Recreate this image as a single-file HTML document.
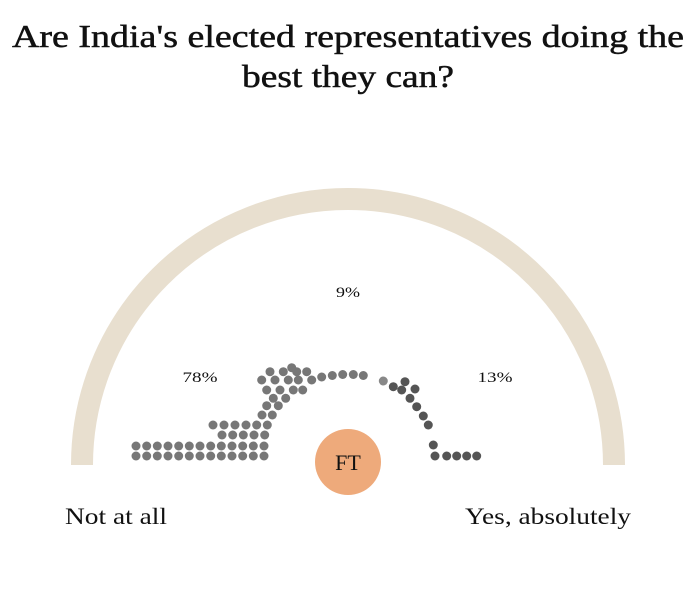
<!DOCTYPE html>
<html><head><meta charset="utf-8"><style>
html,body{margin:0;padding:0;background:#fff;}
svg{display:block}
text{font-family:"Liberation Serif","DejaVu Serif",serif;fill:#111}
</style></head><body>
<svg width="700" height="610" viewBox="0 0 700 610" xmlns="http://www.w3.org/2000/svg">
<text x="348" y="47" text-anchor="middle" font-size="32" stroke="#111" stroke-width="0.5" textLength="672" lengthAdjust="spacingAndGlyphs">Are India's elected representatives doing the</text>
<text x="348" y="87" text-anchor="middle" font-size="32" stroke="#111" stroke-width="0.5" textLength="212" lengthAdjust="spacingAndGlyphs">best they can?</text>
<path d="M82 465 A266 266 0 0 1 614 465" fill="none" stroke="#e8dfcf" stroke-width="22"/>
<circle cx="348" cy="462" r="33" fill="#eeaa7b"/>
<text x="348" y="470" text-anchor="middle" font-size="22" fill="#333">FT</text>
<text x="348" y="297" text-anchor="middle" font-size="15" textLength="24" lengthAdjust="spacingAndGlyphs">9%</text>
<text x="200" y="382" text-anchor="middle" font-size="15" textLength="35" lengthAdjust="spacingAndGlyphs">78%</text>
<text x="495" y="382" text-anchor="middle" font-size="15" textLength="35" lengthAdjust="spacingAndGlyphs">13%</text>
<text x="65" y="524" font-size="23" fill="#333" textLength="102" lengthAdjust="spacingAndGlyphs">Not at all</text>
<text x="465" y="524" font-size="23" fill="#333" textLength="166" lengthAdjust="spacingAndGlyphs">Yes, absolutely</text>
<g fill="#777">
<circle cx="136" cy="456" r="4.5"/><circle cx="146.7" cy="456" r="4.5"/><circle cx="157.3" cy="456" r="4.5"/><circle cx="168" cy="456" r="4.5"/><circle cx="178.7" cy="456" r="4.5"/><circle cx="189.3" cy="456" r="4.5"/><circle cx="200" cy="456" r="4.5"/><circle cx="210.7" cy="456" r="4.5"/><circle cx="221.3" cy="456" r="4.5"/><circle cx="232" cy="456" r="4.5"/><circle cx="242.7" cy="456" r="4.5"/><circle cx="253.3" cy="456" r="4.5"/><circle cx="264" cy="456" r="4.5"/>
<circle cx="136" cy="446" r="4.5"/><circle cx="146.7" cy="446" r="4.5"/><circle cx="157.3" cy="446" r="4.5"/><circle cx="168" cy="446" r="4.5"/><circle cx="178.7" cy="446" r="4.5"/><circle cx="189.3" cy="446" r="4.5"/><circle cx="200" cy="446" r="4.5"/><circle cx="210.7" cy="446" r="4.5"/><circle cx="221.3" cy="446" r="4.5"/><circle cx="232" cy="446" r="4.5"/><circle cx="242.7" cy="446" r="4.5"/><circle cx="253.3" cy="446" r="4.5"/><circle cx="264" cy="446" r="4.5"/>
<circle cx="222" cy="435" r="4.5"/><circle cx="232.7" cy="435" r="4.5"/><circle cx="243.3" cy="435" r="4.5"/><circle cx="254" cy="435" r="4.5"/><circle cx="264.7" cy="435" r="4.5"/>
<circle cx="213" cy="425" r="4.5"/><circle cx="224" cy="425" r="4.5"/><circle cx="235" cy="425" r="4.5"/><circle cx="246" cy="425" r="4.5"/><circle cx="256.7" cy="425" r="4.5"/><circle cx="267.3" cy="425" r="4.5"/>
<circle cx="262" cy="415" r="4.5"/><circle cx="272.3" cy="415" r="4.5"/>
<circle cx="266.7" cy="405.7" r="4.5"/><circle cx="278.3" cy="405.7" r="4.5"/>
<circle cx="273.3" cy="398.3" r="4.5"/><circle cx="285.7" cy="398.3" r="4.5"/>
<circle cx="266.7" cy="390" r="4.5"/><circle cx="280" cy="390" r="4.5"/><circle cx="293.3" cy="390" r="4.5"/><circle cx="302.7" cy="390" r="4.5"/>
<circle cx="261.7" cy="380" r="4.5"/><circle cx="275" cy="380" r="4.5"/><circle cx="288.3" cy="380" r="4.5"/><circle cx="298.3" cy="380" r="4.5"/><circle cx="311.7" cy="380" r="4.5"/><circle cx="321.7" cy="377" r="4.5"/><circle cx="332.3" cy="375.5" r="4.5"/><circle cx="342.7" cy="374.5" r="4.5"/><circle cx="353.3" cy="374.5" r="4.5"/><circle cx="363.3" cy="375.5" r="4.5"/>
<circle cx="270" cy="371.7" r="4.5"/><circle cx="283.3" cy="371.7" r="4.5"/><circle cx="296.7" cy="371.7" r="4.5"/><circle cx="306.7" cy="371.7" r="4.5"/>
<circle cx="291.7" cy="367.7" r="4.5"/>
<circle cx="383.3" cy="381" r="4.5" fill="#888"/>
</g>
<g fill="#555">
<circle cx="393.3" cy="386.7" r="4.5"/><circle cx="405" cy="381.7" r="4.5"/><circle cx="401.7" cy="390" r="4.5"/><circle cx="415" cy="389" r="4.5"/><circle cx="410" cy="398.3" r="4.5"/><circle cx="416.7" cy="406.7" r="4.5"/><circle cx="423.3" cy="416" r="4.5"/><circle cx="428.3" cy="425" r="4.5"/><circle cx="433.3" cy="445" r="4.5"/><circle cx="435" cy="456" r="4.5"/><circle cx="446.7" cy="456" r="4.5"/><circle cx="456.7" cy="456" r="4.5"/><circle cx="466.7" cy="456" r="4.5"/><circle cx="476.7" cy="456" r="4.5"/>
</g>
</svg>
</body></html>
